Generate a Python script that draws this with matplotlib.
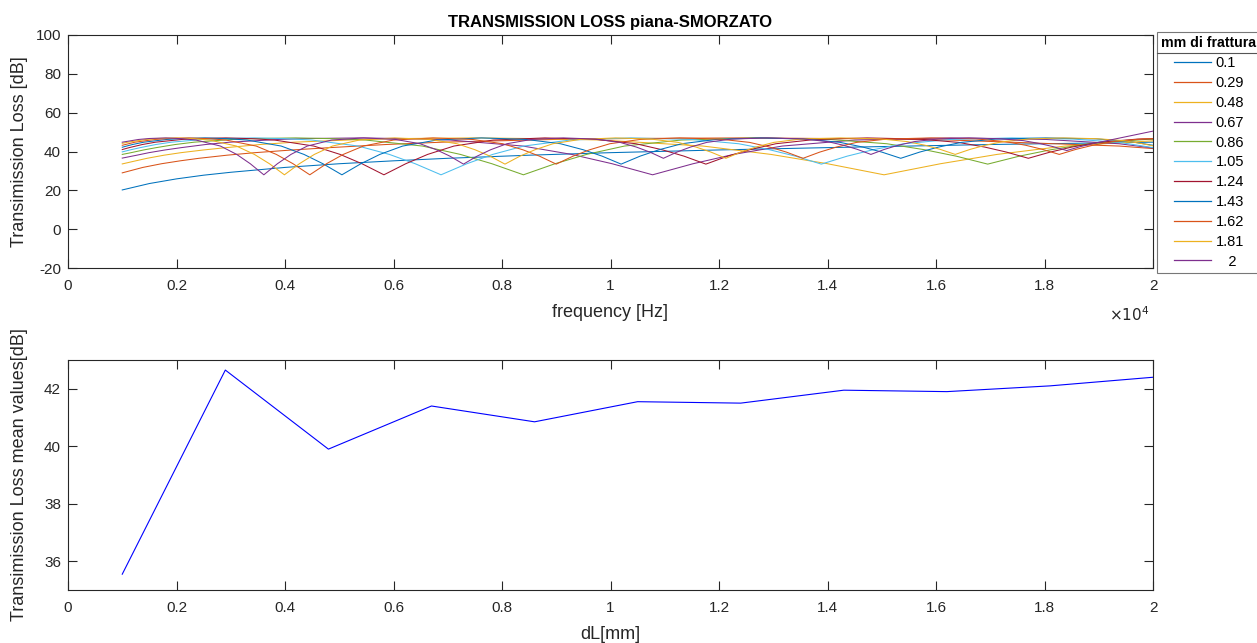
import matplotlib
matplotlib.use('Agg')
import matplotlib.pyplot as plt
from matplotlib.lines import Line2D

plt.rcParams['font.family'] = ['Liberation Sans', 'DejaVu Sans']
plt.rcParams['axes.unicode_minus'] = False

# spessori frattura [mm] e relative etichette in legenda
gaps = [0.1, 0.29, 0.48, 0.67, 0.86, 1.05, 1.24, 1.43, 1.62, 1.81, 2]
gap_labels = ['0.1', '0.29', '0.48', '0.67', '0.86', '1.05', '1.24', '1.43', '1.62', '1.81', '   2']

# TL [dB] vs frequenza [Hz] per ogni frattura
freq_010 = [1000, 1500, 2000, 2500, 3000, 4000, 5000, 6000, 7000, 8500, 10000, 12000, 14000, 17000, 20000]
tl_010 = [20.2, 23.5, 25.9, 27.8, 29.3, 31.8, 33.7, 35.2, 36.5, 38.1, 39.4, 40.8, 42.0, 43.6, 44.8]

freq_029 = [1000, 1379, 1724, 2069, 2414, 2931, 3448, 4138, 4828, 5862, 6897, 8966, 10345, 12448, 14483,
            16276, 19379, 20000]
tl_029 = [29.0, 31.8, 33.7, 35.2, 36.5, 38.1, 39.4, 40.8, 42.0, 43.6, 44.8, 46.2, 46.7, 47.0, 46.6,
          45.9, 42.8, 41.5]

freq_048 = [1000, 1250, 1458, 1771, 2083, 2500, 2917, 3542, 4167, 5417, 6250, 7521, 8750, 9833, 11708,
            12958, 14000, 15042, 16083, 17125, 18375, 20000]
tl_048 = [33.6, 35.2, 36.5, 38.1, 39.4, 40.8, 42.0, 43.6, 44.8, 46.2, 46.7, 47.0, 46.6, 45.9, 42.8,
          38.5, 33.7, 28.0, 33.7, 38.5, 42.8, 45.5]

freq_067 = [1000, 1269, 1493, 1791, 2090, 2537, 2985, 3881, 4478, 5388, 6269, 7045, 8388, 9284, 10030,
            10776, 11522, 12269, 13164, 14507, 16269, 18030, 19373, 20000]
tl_067 = [36.6, 38.1, 39.4, 40.8, 42.0, 43.6, 44.8, 46.2, 46.7, 47.0, 46.6, 45.9, 42.8, 38.5, 33.7,
          28.0, 33.7, 38.5, 42.8, 45.9, 47.0, 46.2, 44.0, 41.8]

freq_086 = [1000, 1163, 1395, 1628, 1977, 2326, 3023, 3488, 4198, 4884, 5488, 6535, 7233, 7814, 8395,
            8977, 9558, 10256, 11302, 12674, 14047, 15093, 15791, 16372, 16953, 17535, 18116, 18814,
            19860, 20000]
tl_086 = [38.5, 39.4, 40.8, 42.0, 43.6, 44.8, 46.2, 46.7, 47.0, 46.6, 45.9, 42.8, 38.5, 33.7, 28.0,
          33.7, 38.5, 42.8, 45.9, 47.0, 46.2, 44.0, 40.9, 37.6, 33.5, 37.6, 40.9, 44.0, 46.2, 46.3]

freq_105 = [1000, 1143, 1333, 1619, 1905, 2476, 2857, 3438, 4000, 4495, 5352, 5924, 6400, 6876, 7352,
            7829, 8400, 9257, 10381, 11505, 12362, 12933, 13410, 13886, 14362, 14838, 15410, 16267,
            17395, 18524, 19381, 20000]
tl_105 = [39.8, 40.8, 42.0, 43.6, 44.8, 46.2, 46.7, 47.0, 46.6, 45.9, 42.8, 38.5, 33.7, 28.0, 33.7,
          38.5, 42.8, 45.9, 47.0, 46.2, 44.0, 40.9, 37.6, 33.5, 37.6, 40.9, 44.0, 46.2, 47.0, 46.4,
          44.7, 42.0]

freq_124 = [1000, 1129, 1371, 1613, 2097, 2419, 2911, 3387, 3806, 4532, 5016, 5419, 5823, 6226, 6629,
            7113, 7839, 8790, 9742, 10468, 10952, 11355, 11758, 12161, 12565, 13048, 13774, 14730,
            15685, 16411, 16895, 17298, 17702, 18105, 18508, 18992, 19718, 20000]
tl_124 = [41.0, 42.0, 43.6, 44.8, 46.2, 46.7, 47.0, 46.6, 45.9, 42.8, 38.5, 33.7, 28.0, 33.7, 38.5,
          42.8, 45.9, 47.0, 46.2, 44.0, 40.9, 37.6, 33.5, 37.6, 40.9, 44.0, 46.2, 47.0, 46.4, 44.7,
          42.3, 39.7, 36.5, 39.7, 42.3, 44.7, 46.4, 46.6]

freq_143 = [1000, 1189, 1399, 1818, 2098, 2524, 2937, 3301, 3930, 4350, 4699, 5049, 5399, 5748, 6168,
            6797, 7622, 8448, 9077, 9497, 9846, 10196, 10545, 10895, 11315, 11944, 12773, 13601, 14231,
            14650, 15000, 15350, 15699, 16049, 16469, 17098, 18024, 18951, 19580, 20000]
tl_143 = [42.2, 43.6, 44.8, 46.2, 46.7, 47.0, 46.6, 45.9, 42.8, 38.5, 33.7, 28.0, 33.7, 38.5, 42.8,
          45.9, 47.0, 46.2, 44.0, 40.9, 37.6, 33.5, 37.6, 40.9, 44.0, 46.2, 47.0, 46.4, 44.7, 42.3,
          39.7, 36.5, 39.7, 42.3, 44.7, 46.4, 47.0, 46.5, 45.1, 43.2]

freq_162 = [1000, 1235, 1605, 1852, 2228, 2593, 2914, 3469, 3840, 4148, 4457, 4765, 5074, 5444, 6000,
            6728, 7457, 8012, 8383, 8691, 9000, 9309, 9617, 9988, 10543, 11275, 12006, 12562, 12932,
            13241, 13549, 13858, 14167, 14537, 15093, 15910, 16728, 17284, 17654, 17963, 18272, 18580,
            18889, 19259, 19815, 20000]
tl_162 = [43.2, 44.8, 46.2, 46.7, 47.0, 46.6, 45.9, 42.8, 38.5, 33.7, 28.0, 33.7, 38.5, 42.8, 45.9,
          47.0, 46.2, 44.0, 40.9, 37.6, 33.5, 37.6, 40.9, 44.0, 46.2, 47.0, 46.4, 44.7, 42.3, 39.7,
          36.5, 39.7, 42.3, 44.7, 46.4, 47.0, 46.5, 45.1, 43.2, 41.1, 38.5, 41.1, 43.2, 45.1, 46.5,
          46.6]

freq_181 = [1000, 1105, 1436, 1657, 1994, 2320, 2608, 3105, 3436, 3713, 3989, 4265, 4541, 4873, 5370,
            6022, 6674, 7171, 7503, 7779, 8055, 8331, 8608, 8939, 9436, 10091, 10746, 11243, 11575,
            11851, 12127, 12403, 12680, 13011, 13508, 14240, 14972, 15470, 15801, 16077, 16354, 16630,
            16906, 17238, 17735, 18348, 18961, 19459, 19790, 20000]
tl_181 = [44.2, 44.8, 46.2, 46.7, 47.0, 46.6, 45.9, 42.8, 38.5, 33.7, 28.0, 33.7, 38.5, 42.8, 45.9,
          47.0, 46.2, 44.0, 40.9, 37.6, 33.5, 37.6, 40.9, 44.0, 46.2, 47.0, 46.4, 44.7, 42.3, 39.7,
          36.5, 39.7, 42.3, 44.7, 46.4, 47.0, 46.5, 45.1, 43.2, 41.1, 38.5, 41.1, 43.2, 45.1, 46.5,
          47.0, 46.6, 45.6, 44.1, 42.9]

freq_200 = [1000, 1300, 1500, 1805, 2100, 2360, 2810, 3110, 3360, 3610, 3860, 4110, 4410, 4860, 5450,
            6040, 6490, 6790, 7040, 7290, 7540, 7790, 8090, 8540, 9133, 9725, 10175, 10475, 10725,
            10975, 11225, 11475, 11775, 12225, 12888, 13550, 14000, 14300, 14550, 14800, 15050, 15300,
            15600, 16050, 16605, 17160, 17610, 17910, 18160, 18410, 18660, 18930, 20000]
tl_200 = [44.8, 46.2, 46.7, 47.0, 46.6, 45.9, 42.8, 38.5, 33.7, 28.0, 33.7, 38.5, 42.8, 45.9, 47.0,
          46.2, 44.0, 40.9, 37.6, 33.5, 37.6, 40.9, 44.0, 46.2, 47.0, 46.4, 44.7, 42.3, 39.7, 36.5,
          39.7, 42.3, 44.7, 46.4, 47.0, 46.5, 45.1, 43.2, 41.1, 38.5, 41.1, 43.2, 45.1, 46.5, 47.0,
          46.6, 45.6, 44.1, 42.5, 40.5, 42.5, 44.3, 50.5]

freqs = [freq_010, freq_029, freq_048, freq_067, freq_086, freq_105, freq_124, freq_143, freq_162,
         freq_181, freq_200]
tls = [tl_010, tl_029, tl_048, tl_067, tl_086, tl_105, tl_124, tl_143, tl_162, tl_181, tl_200]

# valori medi del TL per ogni frattura
dL = [0.1, 0.29, 0.48, 0.67, 0.86, 1.05, 1.24, 1.43, 1.62, 1.81, 2.0]
tl_mean = [35.55, 42.65, 39.9, 41.4, 40.85, 41.55, 41.5, 41.95, 41.9, 42.1, 42.4]

# palette di default MATLAB
colors = ['#0072BD', '#D95319', '#EDB120', '#7E2F8E', '#77AC30', '#4DBEEE', '#A2142F']
axcol = '#262626'
W, H = 1257, 643


def style_axes(ax):
    for sp in ax.spines.values():
        sp.set_color(axcol)
        sp.set_linewidth(0.8)
    ax.tick_params(direction='in', top=True, right=True, length=6.5, width=0.8,
                   colors=axcol, labelsize=11)
    ax.tick_params(axis='x', pad=8)
    ax.tick_params(axis='y', pad=5)


fig = plt.figure(figsize=(W / 100, H / 100), dpi=100)
ax1 = fig.add_axes([68 / W, 1 - 268 / H, 1085 / W, 233 / H])
ax2 = fig.add_axes([68 / W, 1 - 590 / H, 1085 / W, 230 / H])

# --- TL in frequenza ---
for i, (f, tl) in enumerate(zip(freqs, tls)):
    ax1.plot(f, tl, color=colors[i % len(colors)], lw=0.75, label=gap_labels[i])

ax1.set_xlim(0, 20000)
ax1.set_ylim(-20, 100)
ax1.set_xticks(range(0, 20001, 2000))
ax1.set_xticklabels(['0', '0.2', '0.4', '0.6', '0.8', '1', '1.2', '1.4', '1.6', '1.8', '2'])
ax1.set_yticks(range(-20, 101, 20))
style_axes(ax1)
ax1.set_title('TRANSMISSION LOSS piana-SMORZATO', fontsize=12, fontweight='bold', color='black', pad=6)
ax1.set_xlabel('frequency [Hz]', fontsize=13, color=axcol, labelpad=8)
ax1.set_ylabel('Transimission Loss [dB]', fontsize=13, color=axcol)
ax1.yaxis.set_label_coords(-0.037, 0.5)
ax1.text(0.997, -0.2, r'$\times10^{4}$', transform=ax1.transAxes, ha='right', va='center',
         fontsize=11, color=axcol)

leg = ax1.legend(loc='upper left', bbox_to_anchor=(1.0037, 1.013), borderaxespad=0,
                 fontsize=10.5, title='mm di frattura',
                 title_fontproperties={'weight': 'bold', 'size': 10.2},
                 frameon=True, fancybox=False, edgecolor='#555555', handlelength=2.6,
                 handletextpad=0.3, labelspacing=0.4, borderpad=0.3)
leg.get_frame().set_linewidth(0.8)
for h in leg.legend_handles:
    h.set_linewidth(0.9)
fig.add_artist(Line2D([1157 / W, 1.0], [1 - 53 / H, 1 - 53 / H], color='#555555', lw=0.8))

# --- TL medio ---
ax2.plot(dL, tl_mean, color='blue', lw=0.8)
ax2.set_xlim(0, 2)
ax2.set_ylim(35, 43)
ax2.set_xticks([0, 0.2, 0.4, 0.6, 0.8, 1, 1.2, 1.4, 1.6, 1.8, 2])
ax2.set_xticklabels(['0', '0.2', '0.4', '0.6', '0.8', '1', '1.2', '1.4', '1.6', '1.8', '2'])
ax2.set_yticks([36, 38, 40, 42])
style_axes(ax2)
ax2.set_xlabel('dL[mm]', fontsize=13, color=axcol, labelpad=8)
ax2.set_ylabel('Transimission Loss mean values[dB]', fontsize=13, color=axcol)
ax2.yaxis.set_label_coords(-0.037, 0.5)

fig.savefig('out.png', dpi=100)
